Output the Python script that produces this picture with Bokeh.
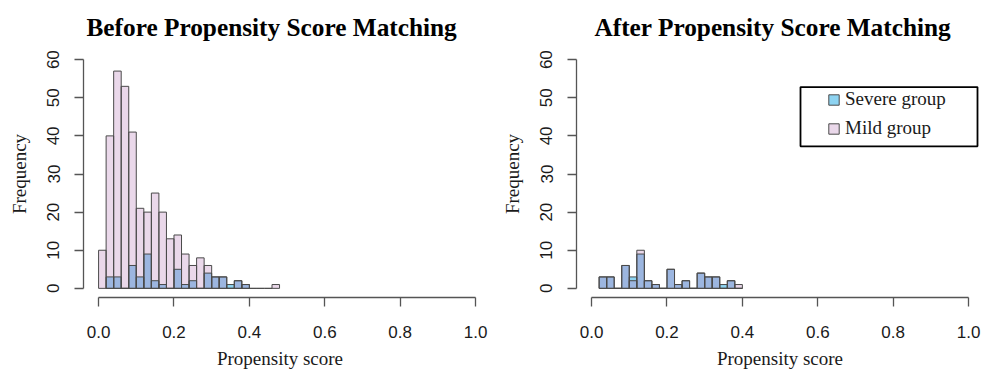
import numpy as np
from bokeh.plotting import figure
from bokeh.models import (Range1d, FixedTicker, NumeralTickFormatter, Legend,
                          LegendItem, BoxAnnotation)
from bokeh.layouts import row
from bokeh.embed import file_html
from bokeh.resources import INLINE

# ---------------- data ----------------
bin_width = 0.02

before_mild_start = 0.00
before_mild_counts = [10, 40, 57, 53, 41, 21, 20, 25, 20, 13, 14, 9, 6, 8, 6,
                      3, 3, 0, 2, 1, 0, 0, 0, 1]
before_severe_start = 0.02
before_severe_counts = [3, 3, 0, 6, 3, 9, 2, 1, 0, 5, 1, 2, 0, 4, 3, 3, 1, 2, 1]

after_mild_start = 0.02
after_mild_counts = [3, 3, 0, 6, 2, 10, 2, 1, 0, 5, 1, 2, 0, 4, 3, 3, 0, 2, 1]
after_severe_start = 0.02
after_severe_counts = [3, 3, 0, 6, 3, 9, 2, 1, 0, 5, 1, 2, 0, 4, 3, 3, 1, 2, 0]

x_ticks = [0.0, 0.2, 0.4, 0.6, 0.8, 1.0]
y_ticks = [0, 10, 20, 30, 40, 50, 60]
panel_titles = ["Before Propensity Score Matching", "After Propensity Score Matching"]
x_label = "Propensity score"
y_label = "Frequency"
legend_labels = ["Severe group", "Mild group"]

# ---------------- style ----------------
PINK = "#EAD8EA"
CYAN = "#8DD3F1"
BLUE = "#9CB6E0"
EDGE = "#4a4a4a"
AXIS = "#555555"
TXT = "#1a1a1a"
SERIF = "Liberation Serif"
SANS = "Liberation Sans"

PX_PER_X = 377.0
Y_LO, Y_HI = -2.4, 62.4
X_LO = -0.04


def bins(start, counts):
    counts = np.asarray(counts, dtype=float)
    first = int(round(start / bin_width))
    idx = first + np.arange(len(counts))
    left = idx * bin_width
    return idx, left, left + bin_width, counts


def make_panel(title, mild, severe, geom, title_offset, legend=False):
    width, height, fl, fr, ft, fb = geom
    frame_w = fr - fl
    x_hi = X_LO + frame_w / PX_PER_X
    p = figure(width=width, height=height, output_backend="svg",
               toolbar_location=None, x_range=Range1d(X_LO, x_hi),
               y_range=Range1d(Y_LO, Y_HI),
               min_border_left=fl, min_border_right=width - fr,
               min_border_top=ft, min_border_bottom=height - fb)
    p.outline_line_color = None
    p.grid.visible = False
    p.background_fill_color = "white"
    p.border_fill_color = "white"

    mi, ml, mr, mc = bins(*mild)
    si, sl, sr, sc = bins(*severe)
    # fills
    pink_r = p.quad(left=ml, right=mr, bottom=0, top=mc, fill_color=PINK, line_color=None)
    cyan_r = p.quad(left=sl, right=sr, bottom=0, top=sc, fill_color=CYAN, line_color=None)
    common, im, isv = np.intersect1d(mi, si, return_indices=True)
    p.quad(left=ml[im], right=mr[im], bottom=0, top=np.minimum(mc[im], sc[isv]),
           fill_color=BLUE, line_color=None)
    # outlines
    sev_o = p.quad(left=sl, right=sr, bottom=0, top=sc, fill_color=None,
                   line_color=EDGE, line_width=1)
    mild_o = p.quad(left=ml, right=mr, bottom=0, top=mc, fill_color=None,
                    line_color=EDGE, line_width=1)

    # title
    p.title.text = title
    p.title.align = "left"
    p.title.offset = title_offset
    p.title.text_font = SERIF
    p.title.text_font_size = "25.3px"
    p.title.text_font_style = "bold"
    p.title.text_color = "black"
    p.title.standoff = 19

    # axes
    for ax in (p.xaxis[0], p.yaxis[0]):
        ax.axis_line_color = AXIS
        ax.axis_line_width = 1.3
        ax.major_tick_line_color = AXIS
        ax.major_tick_line_width = 1.3
        ax.major_tick_out = 9
        ax.major_tick_in = 0
        ax.minor_tick_line_color = None
        ax.major_label_text_font = SANS
        ax.major_label_text_font_size = "17px"
        ax.major_label_text_color = TXT
        ax.axis_label_text_font = SERIF
        ax.axis_label_text_font_size = "19px"
        ax.axis_label_text_font_style = "normal"
        ax.axis_label_text_color = TXT
    p.xaxis.bounds = (0, 1)
    p.yaxis.bounds = (0, 60)
    p.xaxis.ticker = FixedTicker(ticks=x_ticks)
    p.yaxis.ticker = FixedTicker(ticks=y_ticks)
    p.xaxis.formatter = NumeralTickFormatter(format="0.0")
    p.xaxis.axis_label = x_label
    p.yaxis.axis_label = y_label
    p.xaxis.major_label_standoff = 19
    p.xaxis.axis_label_standoff = 7
    p.yaxis.major_label_orientation = "vertical"
    p.yaxis.major_label_standoff = 15
    p.yaxis.axis_label_standoff = 15

    if legend:
        lg = Legend(items=[LegendItem(label=legend_labels[0], renderers=[cyan_r, sev_o]),
                           LegendItem(label=legend_labels[1], renderers=[pink_r, mild_o])],
                    location=(251, 158), glyph_width=13, glyph_height=13,
                    label_standoff=5, spacing=7, padding=0, margin=0,
                    label_text_font=SERIF, label_text_font_size="19px",
                    label_text_color=TXT, border_line_alpha=0,
                    background_fill_alpha=0)
        p.add_layout(lg)
        # frame around the legend (given in pixels, converted to data units)
        bx0, bx1, by0, by1 = 307, 484, 84, 144
        sy = (fb - ft) / (Y_HI - Y_LO)
        to_x = lambda px: X_LO + (px - fl) / PX_PER_X
        to_y = lambda py: Y_HI - (py - ft) / sy
        p.add_layout(BoxAnnotation(left=to_x(bx0), right=to_x(bx1),
                                   top=to_y(by0), bottom=to_y(by1),
                                   fill_color=None, fill_alpha=0,
                                   line_color="black", line_alpha=1.0,
                                   line_width=1.8))
    return p


left = make_panel(panel_titles[0],
                  (before_mild_start, before_mild_counts),
                  (before_severe_start, before_severe_counts),
                  (493, 380, 83, 476, 50, 300), 3)
right = make_panel(panel_titles[1],
                   (after_mild_start, after_mild_counts),
                   (after_severe_start, after_severe_counts),
                   (493, 380, 83, 490, 47, 297), 18, legend=True)

layout = row(left, right)
open("out.html", "w").write(file_html(layout, INLINE))
